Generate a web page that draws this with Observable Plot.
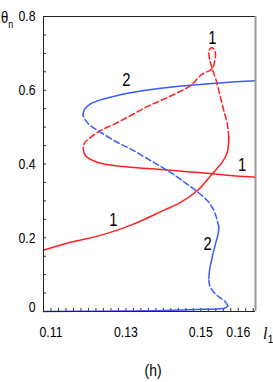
<!DOCTYPE html>
<html><head><meta charset="utf-8">
<script src="https://cdn.jsdelivr.net/npm/d3@7"></script>
<script src="https://cdn.jsdelivr.net/npm/@observablehq/plot@0.6"></script>
<style>body{margin:0;background:#fff;}</style>
</head><body><div id="chart"></div>
<script>
// Curve 1 (red): l1 and theta_n values along the curve
const redL = [0.10797,0.11519,0.12320,0.13122,0.14004,0.14458,0.14912,0.15313,0.15573,0.15706,0.15749,
  0.15706,0.15615,0.15514,0.15412,0.15305,0.15233,0.15214,0.15247,0.15300,0.15367,0.15393,0.15367,0.15305,
  0.15019,0.14725,0.14325,0.13924,0.13568,0.13122,0.12721,0.12320,0.12008,0.11893,0.11858,
  0.11919,0.12232,0.12676,0.13122,0.13924,0.14725,0.15313,0.15928,0.16462];
const redT = [0.1659,0.1876,0.2065,0.2336,0.2742,0.2958,0.3283,0.3743,0.4049,0.4319,0.4717,
  0.5088,0.5448,0.5854,0.6260,0.6585,0.6855,0.7018,0.7126,0.7153,0.7085,0.6963,0.6774,0.6585,
  0.6422,0.6125,0.5908,0.5719,0.5556,0.5313,0.5096,0.4907,0.4682,0.4568,0.4455,
  0.4230,0.4049,0.3959,0.3913,0.3851,0.3783,0.3735,0.3675,0.3643];
const redBreaks = [10, 34];
const redStyles = ["solid","dashed","solid"];

// Curve 2 (blue)
const blueL = [0.10797,0.12320,0.13656,0.14859,0.15393,0.15573,0.15674,0.15722,
  0.15661,0.15482,0.15305,0.15228,0.15214,
  0.15233,0.15305,0.15393,0.15460,0.15482,
  0.15439,0.15348,0.15172,0.14859,0.14538,0.14191,0.13656,0.13122,0.12767,0.12320,0.12053,0.11919,0.11853,
  0.11893,0.12053,0.12408,0.13122,0.13924,0.14725,0.15581,0.16462];
const blueT = [0.000,0.001,0.002,0.0054,0.0068,0.0081,0.0103,0.0157,
  0.0260,0.0395,0.0576,0.0739,0.0893,
  0.1118,0.1478,0.1840,0.2092,0.2281,
  0.2471,0.2742,0.3012,0.3283,0.3526,0.3770,0.4095,0.4411,0.4590,0.4861,0.5042,0.5191,0.5326,
  0.5475,0.5629,0.5765,0.5935,0.6057,0.6138,0.6206,0.6260];
const blueBreaks = [7, 12, 17, 30];
const blueStyles = ["solid","dashed","solid","dashed","solid"];

// Curve labels
const labelText = ["1","2","1","1","2"];
const labelL = [0.15305,0.13015,0.12668,0.16102,0.15180];
const labelT = [0.7424,0.6260,0.2470,0.3960,0.1820];

// Axes
const xDomain = [0.108, 0.1646];
const yDomain = [0, 0.8];
const xTickLabels = [0.11, 0.13, 0.15, 0.16];
const yTickLabels = [0, 0.2, 0.4, 0.6, 0.8];
const xMinorTicks = d3.range(0.108, 0.1646, 0.002);
const yMinorTicks = d3.range(0, 0.801, 0.05);

const RED = "#ff2020", BLUE = "#3a5cff";

function segments(L, T, breaks, styles, color) {
  const out = [];
  const cuts = [0, ...breaks, L.length - 1];
  for (let k = 0; k < styles.length; k++) {
    for (let i = cuts[k]; i <= cuts[k + 1]; i++) {
      out.push({l: L[i], t: T[i], seg: color + k, style: styles[k], color});
    }
  }
  return out;
}
const pts = [
  ...segments(redL, redT, redBreaks, redStyles, "red"),
  ...segments(blueL, blueT, blueBreaks, blueStyles, "blue")
];
const labels = labelText.map((s, i) => ({s, l: labelL[i], t: labelT[i]}));

const FONT = "'Liberation Sans Narrow','Arial Narrow','Liberation Sans',sans-serif";

// detect whether a narrow face is available; otherwise squeeze text horizontally
const ctx = document.createElement("canvas").getContext("2d");
ctx.font = "15px 'Liberation Sans Narrow', monospace";
const wNarrow = ctx.measureText("0.8 0.11").width;
ctx.font = "15px monospace";
const wMono = ctx.measureText("0.8 0.11").width;
const SQ = Math.abs(wNarrow - wMono) > 0.5 ? 1 : 0.82;

const chart = Plot.plot({
  width: 273, height: 382,
  marginLeft: 43, marginRight: 18, marginTop: 16, marginBottom: 71,
  style: {fontFamily: FONT, fontSize: "15px", background: "#fff", color: "#000"},
  x: {domain: xDomain},
  y: {domain: yDomain},
  marks: [
    Plot.axisX(xTickLabels, {tickSize: 0, tickPadding: 15, tickFormat: d => String(d), label: null, fontSize: 15}),
    Plot.axisX(xMinorTicks, {tickSize: -3, text: null, label: null, stroke: "#333"}),
    Plot.axisY(yTickLabels, {tickSize: 0, tickPadding: 8, tickFormat: d => String(d), label: null, fontSize: 15}),
    Plot.axisY(yMinorTicks, {tickSize: -3, text: null, label: null, stroke: "#333"}),
    Plot.line(pts.filter(d => d.style === "solid"), {x: "l", y: "t", z: "seg", stroke: d => d.color === "red" ? RED : BLUE, strokeWidth: 1.5, curve: "catmull-rom"}),
    Plot.line(pts.filter(d => d.style === "dashed"), {x: "l", y: "t", z: "seg", stroke: d => d.color === "red" ? RED : BLUE, strokeWidth: 1.5, strokeDasharray: "6,3", curve: "catmull-rom"}),
    Plot.ruleY([yDomain[1]], {stroke: "#222"}),
    Plot.ruleY([yDomain[0]], {stroke: "#222"}),
    Plot.ruleX([xDomain[0]], {stroke: "#222"}),
    Plot.ruleX([xDomain[1]], {stroke: "#999", strokeWidth: 2}),
    Plot.text(labels, {x: "l", y: "t", text: "s", fontSize: 18, fill: "#000"})
  ]
});
document.getElementById("chart").append(chart);

const svg = d3.select(chart);
// squeeze existing texts (tick labels, curve labels) if no narrow face
svg.selectAll("text").each(function() {
  const el = d3.select(this);
  const tr = el.attr("transform") || "";
  if (el.text() === "0" && tr) el.attr("transform", tr + " translate(0,-4)");
  if (SQ !== 1) el.attr("transform", (el.attr("transform") || "") + ` scale(${SQ},1)`);
});
// the texts inside Plot's text mark groups may carry x/y rather than transform
svg.selectAll("g[aria-label='text'] text").each(function() {
  const el = d3.select(this);
  const x = +el.attr("x"), y = +el.attr("y");
  if (!isNaN(x) && !isNaN(y) && SQ !== 1) {
    el.attr("x", null).attr("y", null).attr("transform", `translate(${x},${y}) scale(${SQ},1)`);
  }
});

const th = svg.append("text").attr("text-anchor", "start")
  .attr("transform", `translate(1,23) scale(${SQ},1)`)
  .attr("font-family", FONT).attr("font-size", 16).attr("fill", "#000");
th.append("tspan").text("θ");
th.append("tspan").attr("font-size", 11).attr("dy", 5).text("n");
const l1 = svg.append("text").attr("text-anchor", "start").attr("x", 263).attr("y", 339)
  .attr("font-family", "'Liberation Serif',serif").attr("font-style", "italic").attr("font-size", 16).attr("fill", "#000");
l1.append("tspan").text("l");
l1.append("tspan").attr("font-size", 11).attr("font-style", "normal").attr("font-family", FONT).attr("dy", 4).text("1");
svg.append("text").attr("text-anchor", "middle").attr("transform", `translate(153,376) scale(${SQ},1)`)
  .attr("font-family", FONT).attr("font-size", 17).attr("fill", "#000").text("(h)");
</script>
</body></html>
